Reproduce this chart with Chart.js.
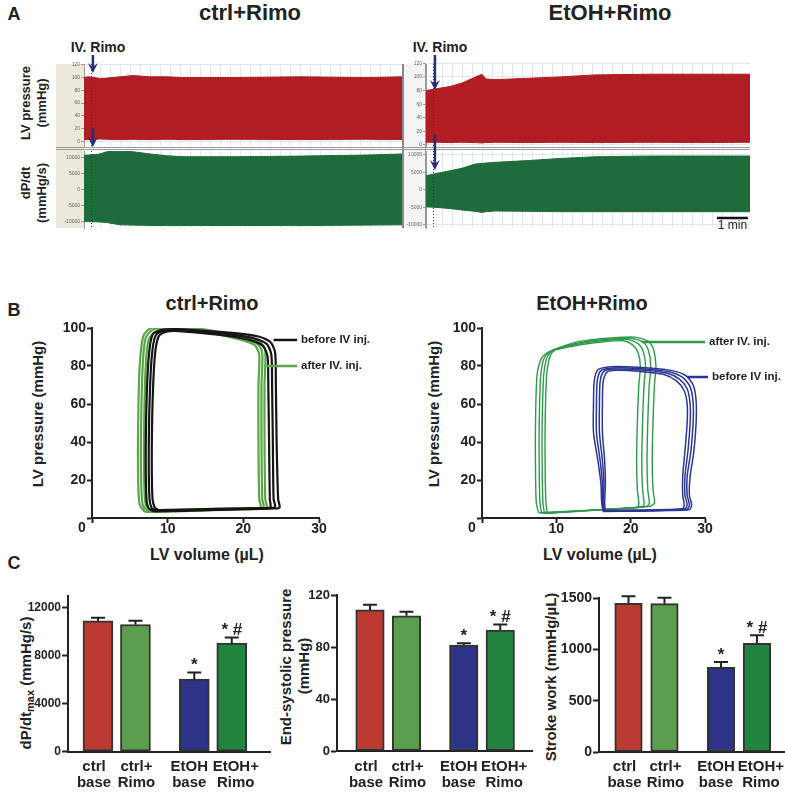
<!DOCTYPE html>
<html>
<head>
<meta charset="utf-8">
<script src="https://cdn.jsdelivr.net/npm/chart.js"></script>
<style>
body { margin: 0; background: #fff; }
#page { position: relative; width: 785px; height: 796px; overflow: hidden; font-family: 'Liberation Sans', Arial, sans-serif; color: #222; }
#page canvas { position: absolute; }
.ctr { position: absolute; white-space: nowrap; font-weight: bold; line-height: 1; transform: translate(-50%, -50%); }
.rot { position: absolute; white-space: nowrap; font-weight: bold; line-height: 1; transform: translate(-50%, -50%) rotate(-90deg); }
.strip { position: absolute; }
sub { font-size: 11px; vertical-align: -3px; }
</style>
</head>
<body>
<div id="page">
	<!-- panel A frame pieces -->
	<div class="strip" style="left:56px;top:64px;width:28px;height:164px;background:#ebe9da;"></div>
	<div class="strip" style="left:404px;top:64px;width:21px;height:164px;background:#f3f3f3;border-right:1px solid #999;"></div>
	<div class="strip" style="left:402px;top:64px;width:2px;height:164px;background:#8a8a8a;"></div>
	<div class="strip" style="left:56px;top:147px;width:694px;height:1px;background:#999;"></div>
	<div class="strip" style="left:56px;top:149px;width:694px;height:1px;background:#999;"></div>

	<div class="ctr" style="left:14px;top:14px;font-size:18px;">A</div>
	<div class="ctr" style="left:250px;top:13px;font-size:22px;">ctrl+Rimo</div>
	<div class="ctr" style="left:610px;top:13px;font-size:22px;">EtOH+Rimo</div>
	<div class="ctr" style="left:98px;top:47px;font-size:14px;">IV. Rimo</div>
	<div class="ctr" style="left:440px;top:47px;font-size:14px;">IV. Rimo</div>
	<div class="rot" style="left:25px;top:103px;font-size:13px;">LV pressure</div>
	<div class="rot" style="left:41px;top:103px;font-size:13px;">(mmHg)</div>
	<div class="rot" style="left:25px;top:183px;font-size:13px;">dP/dt</div>
	<div class="rot" style="left:41px;top:193px;font-size:13px;">(mmHg/s)</div>

	<div class="ctr" style="left:14px;top:310px;font-size:18px;">B</div>
	<div class="ctr" style="left:212px;top:303px;font-size:20px;">ctrl+Rimo</div>
	<div class="ctr" style="left:592px;top:303px;font-size:20px;">EtOH+Rimo</div>
	<div class="rot" style="left:37px;top:414px;font-size:15px;">LV pressure (mmHg)</div>
	<div class="rot" style="left:433px;top:414px;font-size:15px;">LV pressure (mmHg)</div>
	<div class="ctr" style="left:207px;top:555px;font-size:16px;">LV volume (µL)</div>
	<div class="ctr" style="left:600px;top:555px;font-size:16px;">LV volume (µL)</div>

	<div class="ctr" style="left:14px;top:563px;font-size:18px;">C</div>
	<div class="rot" style="left:27px;top:683px;font-size:15px;">dP/dt<sub>max</sub> (mmHg/s)</div>
	<div class="rot" style="left:285px;top:667px;font-size:15px;">End-systolic pressure</div>
	<div class="rot" style="left:303px;top:666px;font-size:15px;">(mmHg)</div>
	<div class="rot" style="left:550px;top:677px;font-size:15px;">Stroke work (mmHg/µL)</div>
</div>

<script>
//---------------- DATA ----------------

//Panel A: envelopes (top / bottom) of the beat-to-beat traces, time in min from IV injection
const ctrlTime = [-0.23, -0.1, 0.13, 0.3, 0.53, 0.97, 1.4, 1.97, 2.53, 3.07, 4.73, 6.97, 9.2, 10.37];
const ctrlPressTop = [100, 101, 100, 98, 99, 101, 103, 101, 101, 100, 100, 101, 100, 101];
const ctrlPressBot = [3.5, 3, 3.5, 4, 3.5, 3, 3.5, 3, 3.5, 3, 3.5, 3, 3.5, 3];
const ctrlDpTop = [10800, 10840, 11000, 11160, 11880, 12100, 11880, 11160, 10630, 10310, 10310, 10500, 10840, 11160];
const ctrlDpBot = [-10000, -10000, -10050, -10100, -10300, -11000, -11100, -11200, -11250, -11250, -11200, -11250, -11100, -11000];

const etohTime = [-0.23, 0.17, 0.57, 0.97, 1.4, 1.63, 1.77, 2.07, 3.17, 4.23, 5.4, 7.23, 8.9, 10.57];
const etohPressTop = [80, 83, 86, 91, 99.5, 104, 97, 96, 98, 100, 103, 104, 104, 104];
const etohPressBot = [4, 4, 3.5, 4, 3.5, 3, 3.5, 4, 3.5, 4, 3.5, 4, 3.5, 4];
const etohDpTop = [4100, 4800, 5500, 6200, 7400, 7600, 7700, 7900, 8400, 9000, 9500, 9700, 9700, 9700];
const etohDpBot = [-4800, -5000, -5300, -5700, -6100, -6400, -6200, -6000, -6100, -6200, -6200, -6200, -6200, -6200];

const pressTicks = [0, 20, 40, 60, 80, 100, 120];
const dpTicks = [-10000, -5000, 0, 5000, 10000];

//Panel B: PV loops, [volume uL, pressure mmHg]
const ctrlBeforeLoops = [
	[[8.8,4.2],[12,4.4],[16,4.8],[20,5.0],[23.0,5.2],[23.6,5.8],[23.5,10],[23.4,40],[23.3,70],[23.2,85],[22.6,90.5],[21,93.5],[18,95.8],[14,97.5],[11,98.5],[9.8,98],[8.8,95.5],[8.3,85],[8.0,60],[7.9,30],[8.0,10],[8.3,5.5],[8.8,4.2]],
	[[8.5,3.8],[12,4.1],[16,4.5],[20,4.9],[23.6,5.2],[24.2,6.0],[24.0,10],[23.9,40],[23.8,70],[23.7,86],[23.1,91.5],[21.5,94.5],[18,96.8],[14,98.2],[11,99],[9.5,98.6],[8.4,96],[7.9,85],[7.6,60],[7.5,30],[7.6,10],[7.9,5.2],[8.5,3.8]],
	[[8.2,3.5],[12,3.8],[16,4.2],[20,4.7],[24.2,5.0],[24.8,5.6],[24.6,10],[24.4,40],[24.3,70],[24.2,87],[23.6,92.5],[22,95.5],[18,97.6],[14,98.8],[11,99.4],[9.3,99],[8.0,96.5],[7.5,85],[7.2,60],[7.1,30],[7.2,10],[7.5,5],[8.2,3.5]]
];
const ctrlAfterLoops = [
	[[7.8,4.0],[12,4.3],[17,4.8],[21.5,5.2],[22.3,5.8],[22.1,10],[22.0,40],[22.0,70],[22.1,86],[21.5,91],[19.5,94],[16,97],[12,99.2],[10,99.8],[8.5,98.5],[7.5,94],[7.1,80],[6.9,50],[6.9,20],[7.1,7],[7.8,4.0]],
	[[7.4,3.5],[12,3.9],[17,4.5],[21.9,5.0],[22.7,5.6],[22.5,10],[22.4,40],[22.4,70],[22.5,87],[21.9,91.5],[19.8,94.8],[16,97.8],[12,100],[10,100.6],[8.2,99.5],[7.1,95],[6.7,80],[6.5,50],[6.5,20],[6.7,7],[7.4,3.5]],
	[[7.0,3.2],[12,3.6],[17,4.2],[22.3,4.8],[23.1,5.4],[22.9,10],[22.8,40],[22.8,70],[22.9,88],[22.3,92.3],[20.2,95.5],[16,98.5],[12,100.7],[9.8,101.3],[7.9,100.3],[6.8,96],[6.3,80],[6.1,50],[6.1,20],[6.3,7],[7.0,3.2]]
];
const etohBeforeLoops = [
	[[16.6,4.0],[21,4.2],[25,4.5],[27.0,5.0],[27.2,7],[27.0,12],[27.0,22],[27.3,35],[27.6,50],[27.6,60],[27.2,67],[26.2,72],[24.5,75.5],[21,77.3],[18,77.8],[16.8,76.8],[16.3,72],[16.2,60],[16.2,45],[16.5,30],[16.6,18],[16.5,8],[16.6,4.0]],
	[[16.5,3.8],[21,4.0],[25,4.3],[27.3,4.8],[27.6,7],[27.3,12],[27.3,22],[27.7,35],[28.0,50],[28.0,60],[27.6,68],[26.6,73],[24.8,76.3],[21,78],[17.8,78.4],[16.4,77.2],[15.9,72],[15.8,60],[15.8,45],[16.2,30],[16.4,18],[16.3,8],[16.5,3.8]],
	[[16.4,3.6],[21,3.8],[25,4.1],[27.6,4.6],[27.9,7],[27.6,12],[27.6,22],[28.1,35],[28.4,50],[28.4,61],[28.0,69],[27.0,74],[25.1,77],[21,78.7],[17.6,79.0],[16.0,77.6],[15.5,72],[15.4,60],[15.4,45],[15.9,30],[16.2,18],[16.2,8],[16.4,3.6]],
	[[16.3,3.4],[21,3.6],[25,3.9],[27.9,4.4],[28.2,7],[27.9,12],[28.0,22],[28.5,35],[28.8,50],[28.8,62],[28.4,70],[27.4,75],[25.4,77.7],[21,79.3],[17.4,79.6],[15.6,78.0],[15.1,72],[15.0,60],[15.0,45],[15.6,30],[16.0,18],[16.1,8],[16.3,3.4]]
];
const etohAfterLoops = [
	[[7.6,2.8],[12,3.6],[17,4.6],[20.8,5.6],[21.1,7],[20.9,15],[20.8,30],[20.9,50],[21.1,70],[21.3,80],[21.0,87],[20.3,91],[19,93.3],[16,92.6],[13,91],[10.5,89],[9.0,87.5],[8.0,84],[7.4,75],[7.2,50],[7.2,25],[7.3,8],[7.6,2.8]],
	[[8.0,2.6],[12,3.5],[17,4.6],[21.4,5.8],[21.8,7],[21.6,15],[21.5,30],[21.6,50],[21.8,70],[22.0,80],[21.7,87.5],[21.0,91.8],[19.5,94],[16,93.2],[13,91.6],[10.7,89.6],[9.3,88],[8.4,84.5],[7.9,75],[7.7,50],[7.7,25],[7.8,8],[8.0,2.6]],
	[[8.4,2.5],[12,3.4],[17,4.6],[22.0,6.0],[22.5,7.5],[22.3,15],[22.2,30],[22.3,50],[22.5,70],[22.7,80],[22.4,88],[21.7,92.5],[20,94.6],[16,93.8],[13,92.2],[11,90.2],[9.6,88.5],[8.8,85],[8.3,75],[8.1,50],[8.1,25],[8.2,8],[8.4,2.5]],
	[[8.8,2.4],[12,3.3],[17,4.6],[22.6,6.2],[23.2,8],[23.0,15],[22.9,30],[23.0,50],[23.2,70],[23.4,80],[23.1,88.5],[22.4,93],[20.5,95.2],[16,94.4],[13,92.8],[11.2,90.8],[10,89],[9.2,85.5],[8.7,75],[8.5,50],[8.5,25],[8.6,8],[8.8,2.4]]
];

//Panel C: group means and SEM
const barLabels = [['ctrl', 'base'], ['ctrl+', 'Rimo'], ['EtOH', 'base'], ['EtOH+', 'Rimo']];
const dpdtMean = [10900, 10600, 6050, 9050];
const dpdtSem = [260, 320, 560, 470];
const dpdtTicks = [0, 4000, 8000, 12000];
const espMean = [108.5, 104, 81.5, 93];
const espSem = [4, 3.2, 1.3, 4.4];
const espTicks = [0, 40, 80, 120];
const swMean = [1448, 1445, 825, 1059];
const swSem = [70, 57, 52, 78];
const swTicks = [0, 500, 1000, 1500];
const sigMarks = ['', '', '*', '* #'];

//---------------- HELPERS ----------------
const FONT = "'Liberation Sans', Arial, sans-serif";
Chart.defaults.font.family = FONT;
Chart.defaults.color = '#222';
Chart.defaults.animation = false;
Chart.defaults.plugins.legend.display = false;
Chart.defaults.plugins.tooltip.enabled = false;

//create absolutely placed canvas
function CreateCanvas(left, top, w, h) {
	var c = document.createElement('canvas');
	c.width = w;
	c.height = h;
	c.style.left = left + 'px';
	c.style.top = top + 'px';
	c.style.width = w + 'px';
	c.style.height = h + 'px';
	document.getElementById('page').appendChild(c);
	return c;
}

function drawArrow(ctx, x, y1, y2) {
	ctx.strokeStyle = '#272d78';
	ctx.fillStyle = '#272d78';
	ctx.lineWidth = 2.5;
	ctx.beginPath();
	ctx.moveTo(x, y1);
	ctx.lineTo(x, y2 - 6);
	ctx.stroke();
	ctx.beginPath();
	ctx.moveTo(x - 5, y2 - 10);
	ctx.lineTo(x, y2);
	ctx.lineTo(x + 5, y2 - 10);
	ctx.lineTo(x, y2 - 6);
	ctx.closePath();
	ctx.fill();
}

//Panel A trace chart (area between top and bottom envelope)
function TraceChart(box, area, times, top, bot, color, yMin, yMax, yTicks, arrow, scaleBar) {
	var canvas = CreateCanvas(box[0], box[1], box[2], box[3]);
	var marks = {
		id: 'traceMarks',
		afterDraw(chart) {
			var ctx = chart.ctx, a = chart.chartArea;
			var x0 = chart.scales.x.getPixelForValue(0);
			ctx.save();
			ctx.strokeStyle = '#333';
			ctx.lineWidth = 1;
			ctx.setLineDash([1, 2]);
			ctx.beginPath();
			ctx.moveTo(Math.round(x0) + 0.5, a.top);
			ctx.lineTo(Math.round(x0) + 0.5, a.bottom);
			ctx.stroke();
			ctx.setLineDash([]);
			drawArrow(ctx, x0 + 2, arrow[0] - box[1], arrow[1] - box[1]);
			if (scaleBar) {
				var xa = chart.scales.x.getPixelForValue(9.47);
				var xb = chart.scales.x.getPixelForValue(10.5);
				var yb = 218 - box[1];
				ctx.strokeStyle = '#111';
				ctx.lineWidth = 2.5;
				ctx.beginPath();
				ctx.moveTo(xa, yb);
				ctx.lineTo(xb, yb);
				ctx.stroke();
				ctx.fillStyle = '#222';
				ctx.font = '12px ' + FONT;
				ctx.textAlign = 'center';
				ctx.textBaseline = 'alphabetic';
				ctx.fillText('1 min', (xa + xb) / 2, 229 - box[1]);
			}
			ctx.restore();
		}
	};
	return new Chart(canvas, {
		type: 'line',
		data: {
			datasets: [{
				data: times.map((t, i) => ({ x: t, y: top[i] })),
				borderColor: color,
				borderWidth: 1,
				backgroundColor: color,
				pointRadius: 0,
				fill: '+1'
			}, {
				data: times.map((t, i) => ({ x: t, y: bot[i] })),
				borderColor: color,
				borderWidth: 1,
				pointRadius: 0,
				fill: false
			}]
		},
		options: {
			responsive: false,
			layout: { padding: { top: area[1] - box[1], right: box[0] + box[2] - area[2], left: 0, bottom: 0 } },
			scales: {
				x: {
					type: 'linear',
					min: times[0],
					max: times[times.length - 1],
					ticks: { display: false, stepSize: 1 / 3, maxTicksLimit: 100 },
					grid: { color: '#dce8ee', drawTicks: false },
					border: { display: false },
					afterFit: s => { s.height = box[1] + box[3] - area[3]; }
				},
				y: {
					min: yMin,
					max: yMax,
					afterBuildTicks: s => { s.ticks = yTicks.map(v => ({ value: v })); },
					ticks: { font: { size: 5 }, color: '#666', padding: 1, callback: v => String(v) },
					grid: { color: '#dce8ee', tickColor: '#999', tickLength: 3 },
					border: { color: '#999' },
					afterFit: s => { s.width = area[0] - box[0]; }
				}
			}
		},
		plugins: [marks]
	});
}

//Panel B PV loop chart
function PVChart(box, area, groups, notes) {
	var canvas = CreateCanvas(box[0], box[1], box[2], box[3]);
	var datasets = [];
	groups.forEach(g => {
		g.loops.forEach(loop => {
			datasets.push({
				data: loop.map(p => ({ x: p[0], y: p[1] })),
				borderColor: g.color,
				borderWidth: g.width,
				showLine: true,
				pointRadius: 0,
				tension: 0.25,
				fill: false
			});
		});
	});
	var noteMarks = {
		id: 'pvNotes',
		afterDraw(chart) {
			var ctx = chart.ctx, xs = chart.scales.x, ys = chart.scales.y, a = chart.chartArea;
			ctx.save();
			ctx.fillStyle = '#222';
			ctx.font = 'bold 14px ' + FONT;
			ctx.textAlign = 'center';
			ctx.textBaseline = 'middle';
			ctx.fillText('0', a.left - 10, a.bottom + 10);
			notes.forEach(n => {
				var y = ys.getPixelForValue(n.p);
				var x2 = xs.getPixelForValue(n.v2);
				ctx.strokeStyle = n.color;
				ctx.lineWidth = 2.5;
				ctx.beginPath();
				ctx.moveTo(xs.getPixelForValue(n.v1), y);
				ctx.lineTo(x2, y);
				ctx.stroke();
				ctx.font = 'bold 11.5px ' + FONT;
				ctx.textAlign = 'left';
				ctx.fillText(n.text, x2 + 4, y);
			});
			ctx.restore();
		}
	};
	var axisTicks = { font: { size: 14, weight: 'bold' }, color: '#222', callback: v => (v === 0 ? '' : String(v)) };
	var axisGrid = { drawOnChartArea: false, tickLength: 5, tickColor: '#222', tickWidth: 2 };
	return new Chart(canvas, {
		type: 'scatter',
		data: { datasets: datasets },
		options: {
			responsive: false,
			layout: { padding: { top: area[1] - box[1], right: box[0] + box[2] - area[2], left: 0, bottom: 0 } },
			scales: {
				x: {
					type: 'linear', min: 0, max: 30,
					ticks: Object.assign({ stepSize: 10, padding: -2 }, axisTicks),
					grid: axisGrid,
					border: { color: '#222', width: 2 },
					afterFit: s => { s.height = box[1] + box[3] - area[3]; }
				},
				y: {
					type: 'linear', min: 0, max: 100,
					ticks: Object.assign({ stepSize: 20, padding: 1 }, axisTicks),
					grid: axisGrid,
					border: { color: '#222', width: 2 },
					afterFit: s => { s.width = area[0] - box[0]; }
				}
			}
		},
		plugins: [noteMarks]
	});
}

//Panel C bar chart with SEM error bars
const barColors = ['#bd3a33', '#5b9e4e', '#2d3487', '#22843f'];
const barX = [1, 2, 3.57, 4.57];
const labelShift = [-4, 1, -5, 4];

function BarChart(box, area, xMin, xMax, mean, sem, yMax, yTicks, tickSize, thickness) {
	var canvas = CreateCanvas(box[0], box[1], box[2], box[3]);
	var extras = {
		id: 'barExtras',
		afterDatasetsDraw(chart) {
			var ctx = chart.ctx, ys = chart.scales.y;
			var meta = chart.getDatasetMeta(0);
			ctx.save();
			ctx.strokeStyle = '#222';
			ctx.fillStyle = '#222';
			ctx.lineWidth = 2;
			meta.data.forEach((bar, i) => {
				var yTop = ys.getPixelForValue(mean[i] + sem[i]);
				ctx.beginPath();
				ctx.moveTo(bar.x, bar.y);
				ctx.lineTo(bar.x, yTop);
				ctx.moveTo(bar.x - 7, yTop);
				ctx.lineTo(bar.x + 7, yTop);
				ctx.stroke();
				ctx.textAlign = 'center';
				if (sigMarks[i]) {
					ctx.font = 'bold 17px ' + FONT;
					ctx.textBaseline = 'alphabetic';
					ctx.fillText(sigMarks[i], bar.x, yTop - 2);
				}
				//two-line category label under the axis
				ctx.font = 'bold 15px ' + FONT;
				ctx.textBaseline = 'middle';
				ctx.fillText(barLabels[i][0], bar.x + labelShift[i], 767 - box[1]);
				ctx.fillText(barLabels[i][1], bar.x + labelShift[i], 783 - box[1]);
			});
			ctx.restore();
		}
	};
	return new Chart(canvas, {
		type: 'bar',
		data: {
			datasets: [{
				data: mean.map((v, i) => ({ x: barX[i], y: v })),
				backgroundColor: barColors,
				borderColor: '#333',
				borderWidth: 2,
				borderSkipped: false,
				barThickness: thickness
			}]
		},
		options: {
			responsive: false,
			layout: { padding: { top: area[1] - box[1], right: box[0] + box[2] - area[2], left: 0, bottom: 0 } },
			scales: {
				x: {
					type: 'linear', min: xMin, max: xMax, offset: false,
					ticks: { display: false },
					grid: { display: false, offset: false },
					border: { color: '#222', width: 2 },
					afterFit: s => { s.height = box[1] + box[3] - area[3]; }
				},
				y: {
					min: 0, max: yMax,
					afterBuildTicks: s => { s.ticks = yTicks.map(v => ({ value: v })); },
					ticks: { font: { size: tickSize, weight: 'bold' }, color: '#222', padding: 1, callback: v => String(v) },
					grid: { drawOnChartArea: false, tickLength: 6, tickColor: '#222', tickWidth: 2 },
					border: { color: '#222', width: 2 },
					afterFit: s => { s.width = area[0] - box[0]; }
				}
			}
		},
		plugins: [extras]
	});
}

//---------------- BUILD ----------------
window.onload = function () {
	//box = [left, top, width, height], area = [left, top, right, bottom] in page pixels
	TraceChart([56, 40, 346, 110], [84, 64, 402, 147], ctrlTime, ctrlPressTop, ctrlPressBot, '#b01d23', -7, 121, pressTicks, [55, 73], false);
	TraceChart([404, 40, 346, 110], [426, 64, 750, 147], etohTime, etohPressTop, etohPressBot, '#b01d23', -1.5, 119, pressTicks, [55, 90], false);
	TraceChart([56, 120, 346, 115], [84, 151, 402, 228], ctrlTime, ctrlDpTop, ctrlDpBot, '#1e6b3b', -12000, 12100, dpTicks, [128, 147], false);
	TraceChart([404, 120, 346, 115], [426, 151, 750, 228], etohTime, etohDpTop, etohDpBot, '#1e6b3b', -10860, 11140, dpTicks, [135, 170], true);

	PVChart([0, 310, 400, 260], [92, 328, 319, 518], [
		{ loops: ctrlBeforeLoops, color: '#151515', width: 2.2 },
		{ loops: ctrlAfterLoops, color: '#5aa647', width: 2.2 }
	], [
		{ v1: 24.0, v2: 27.1, p: 93.7, color: '#151515', text: 'before IV inj.' },
		{ v1: 22.9, v2: 27.1, p: 80, color: '#5aa647', text: 'after IV. inj.' }
	]);
	PVChart([390, 310, 395, 260], [482, 328, 705, 518], [
		{ loops: etohBeforeLoops, color: '#2b3594', width: 1.5 },
		{ loops: etohAfterLoops, color: '#2e9a4c', width: 1.4 }
	], [
		{ v1: 21.5, v2: 30.0, p: 92.6, color: '#2e9a4c', text: 'after IV. inj.' },
		{ v1: 27.6, v2: 30.4, p: 74.2, color: '#2b3594', text: 'before IV inj.' }
	]);

	BarChart([0, 575, 275, 221], [68, 595.7, 270, 751.7], 0.2, 5.59, dpdtMean, dpdtSem, 13000, dpdtTicks, 12, 30);
	BarChart([265, 575, 270, 221], [337, 595, 532, 751], 0.096, 5.44, espMean, espSem, 120, espTicks, 13, 28.5);
	BarChart([535, 575, 250, 221], [599, 598, 785, 752], 0.18, 5.35, swMean, swSem, 1500, swTicks, 14, 27.5);
};
</script>
</body>
</html>
